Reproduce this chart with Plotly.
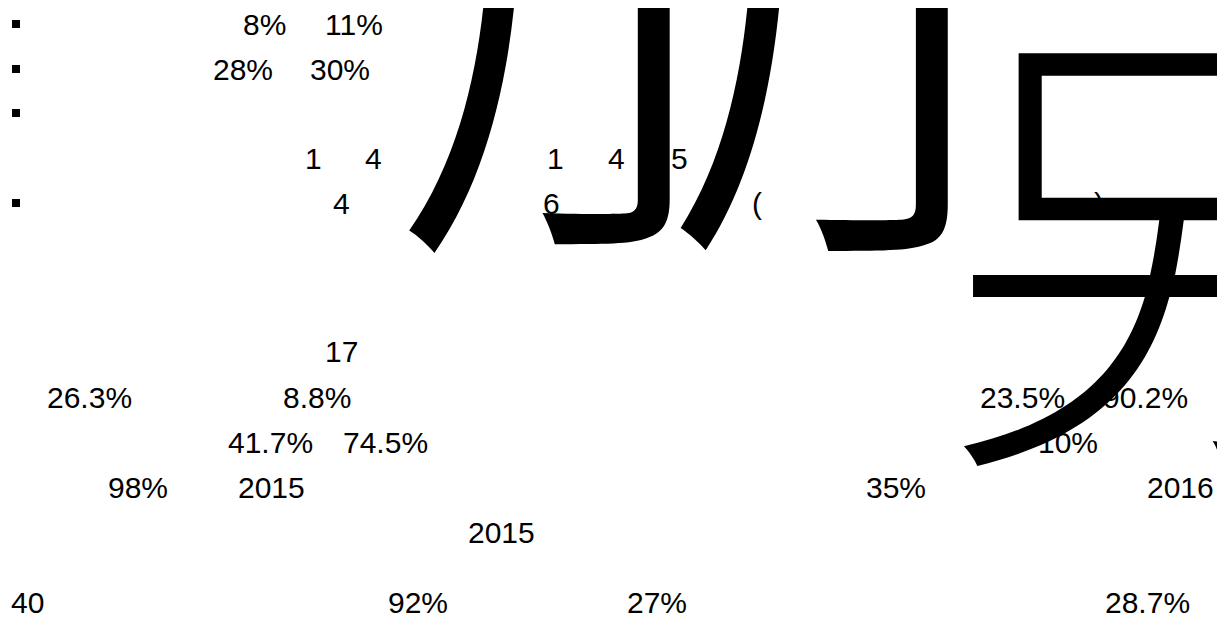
import plotly.graph_objects as go

# ---- data: visible text tokens, grouped by line ----
line_texts = [
    ["8%", "11%"],
    ["28%", "30%"],
    [],
    ["1", "4", "1", "4", "5"],
    ["4", "6", "(", ")"],
    ["17"],
    ["26.3%", "8.8%", "23.5%", "90.2%"],
    ["41.7%", "74.5%", "10%"],
    ["98%", "2015", "35%", "2016"],
    ["2015"],
    ["40", "92%", "27%", "28.7%"],
]
bullet_lines = [0, 1, 2, 4]
big_glyphs = ["册", "另"]

# ---- layout (positions in page pixels) ----
line_baselines = [35, 80, 124, 169, 214, 362, 408, 453, 498, 543, 613]
line_lefts = [
    [243, 325],
    [213, 310],
    [],
    [305, 365, 547, 608, 671],
    [333, 543, 752, 1094],
    [325],
    [47, 283, 980, 1103],
    [228, 343, 1038],
    [108, 238, 866, 1147],
    [468],
    [9, 388, 627, 1105],
]
FS = 30
W, H = 1225, 623
PAGE_MARGIN = 8  # default body margin of the html page

fig = go.Figure()

# bullets
fig.add_trace(go.Scatter(
    x=[16] * len(bullet_lines),
    y=[line_baselines[i] - 11 for i in bullet_lines],
    mode="markers",
    marker=dict(symbol="square", size=8, color="black"),
    hoverinfo="skip", showlegend=False,
))

annotations = []
annotations.append(dict(text=big_glyphs[0], x=376, y=398, xref="x", yref="y",
                        xanchor="left", yanchor="bottom", showarrow=False,
                        font=dict(family="Noto Sans CJK SC", size=680, color="black", weight=300)))
annotations.append(dict(text=big_glyphs[1], x=936, y=570, xref="x", yref="y",
                        xanchor="left", yanchor="bottom", showarrow=False,
                        font=dict(family="Noto Sans CJK SC", size=480, color="black", weight=300)))

for texts, lefts, base in zip(line_texts, line_lefts, line_baselines):
    for t, x0 in zip(texts, lefts):
        annotations.append(dict(
            text=t, x=max(x0 - 2, PAGE_MARGIN + 0.5), y=base - 10.5, xref="x", yref="y",
            xanchor="left", yanchor="middle", showarrow=False,
            font=dict(family="Liberation Sans, Arial, Helvetica, sans-serif", size=FS, color="black"),
        ))

fig.update_layout(
    width=W - PAGE_MARGIN, height=H - PAGE_MARGIN,
    margin=dict(l=0, r=0, t=0, b=0),
    paper_bgcolor="white", plot_bgcolor="white",
    xaxis=dict(range=[PAGE_MARGIN, W], visible=False, fixedrange=True),
    yaxis=dict(range=[H, PAGE_MARGIN], visible=False, fixedrange=True),
    annotations=annotations,
    showlegend=False,
)

fig.write_html("out.html", config={"displayModeBar": False})
